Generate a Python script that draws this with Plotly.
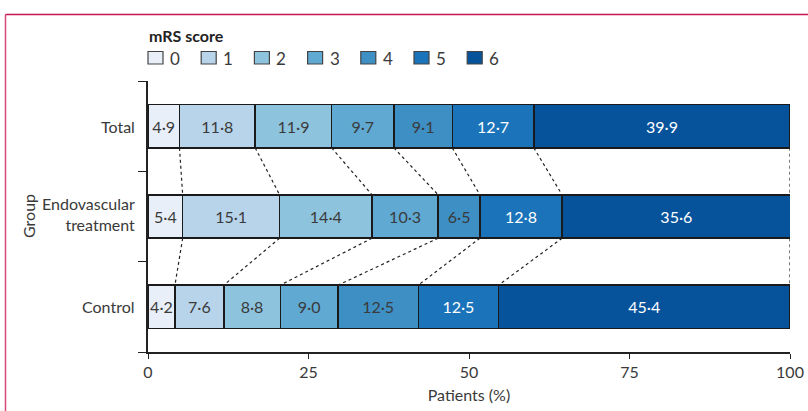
import plotly.graph_objects as go

groups = ["Total", "Endovascular<br>treatment", "Control"]
scores = ["0", "1", "2", "3", "4", "5", "6"]
total = [4.9, 11.8, 11.9, 9.7, 9.1, 12.7, 39.9]
endo = [5.4, 15.1, 14.4, 10.3, 6.5, 12.8, 35.6]
control = [4.2, 7.6, 8.8, 9.0, 12.5, 12.5, 45.4]
values = [total, endo, control]
colors = ["#e9eff8", "#b8d4ea", "#8dc3dd", "#5fa9d3", "#3e8fc3", "#1b73b9", "#06539b"]
text_colors = ["#3a3a3a"] * 5 + ["#ffffff", "#ffffff"]
x_ticks = [0, 25, 50, 75, 100]

FONT = "Lato, Roboto, sans-serif"
def f(size, color="#3a3a3a", weight="normal"):
    return dict(family=FONT, size=size, color=color, weight=weight)

BAR_W = 0.48

fig = go.Figure()
for i, s in enumerate(scores):
    xs = [row[i] for row in values]
    fig.add_trace(go.Bar(
        x=xs, y=[0, 1, 2], orientation="h", width=BAR_W,
        marker=dict(color=colors[i], line=dict(color="#1a1a1a", width=1.5)),
        text=[f"{v:.1f}".replace(".", "\u00b7") for v in xs],
        textposition="inside", insidetextanchor="middle", textangle=0,
        constraintext="none",
        textfont=f(16, text_colors[i]),
        showlegend=False, hoverinfo="skip",
    ))

def cums(row):
    out, c = [], 0
    for v in row:
        c += v
        out.append(c)
    return out

for g in range(len(values) - 1):
    a = cums(values[g])
    b = cums(values[g + 1])
    for k in range(len(scores)):
        xa = a[k] if k < len(scores) - 1 else 100
        xb = b[k] if k < len(scores) - 1 else 100
        fig.add_trace(go.Scatter(
            x=[xa, xb], y=[g + BAR_W / 2, g + 1 - BAR_W / 2], mode="lines",
            line=dict(color="#222222", width=1.2, dash="3px,3px"),
            showlegend=False, hoverinfo="skip",
        ))

PW, PH = 642.0, 271.0
def px(xp):
    return (xp - 148) / PW
def py(yp):
    return (352 - yp) / PH

shapes = []
annotations = []
for i, s in enumerate(scores):
    x0 = 148 + 53.2 * i
    shapes.append(dict(type="rect", xref="paper", yref="paper",
                       x0=px(x0), x1=px(x0 + 15), y0=py(64), y1=py(51.5),
                       fillcolor=colors[i], line=dict(color="#444444", width=1.2)))
    annotations.append(dict(text=s, xref="paper", yref="paper", x=px(x0 + 20), y=py(58.5),
                            xanchor="left", yanchor="middle", showarrow=False,
                            font=f(17)))
annotations.append(dict(text="mRS score", xref="paper", yref="paper", x=px(147), y=py(35),
                        xanchor="left", yanchor="middle", showarrow=False,
                        font=f(16, "#222222", 700)))

shapes.append(dict(type="line", xref="paper", yref="paper", x0=px(5.5), x1=px(812),
                   y0=py(14.5), y1=py(14.5), line=dict(color="#c8174f", width=1.5)))
shapes.append(dict(type="line", xref="paper", yref="paper", x0=px(5.5), x1=px(5.5),
                   y0=py(14.5), y1=py(420), line=dict(color="#d64a78", width=1.5)))

fig.update_layout(
    barmode="stack",
    width=808, height=411,
    margin=dict(l=148, r=18, t=81, b=59, autoexpand=False),
    plot_bgcolor="white", paper_bgcolor="white",
    font=f(16),
    shapes=shapes, annotations=annotations,
    xaxis=dict(range=[0, 100], tickvals=x_ticks, ticks="outside", ticklen=5,
               tickcolor="#222222", showline=True, linecolor="#222222", linewidth=1.5,
               showgrid=False, zeroline=False, automargin=False,
               title=dict(text="Patients (%)", standoff=10, font=f(16)),
               tickfont=f(16)),
    yaxis=dict(range=[2.5, -0.5], tickvals=[-0.5, 0.5, 1.5, 2.5], ticktext=["", "", "", ""],
               ticks="outside", ticklen=8, tickcolor="#222222",
               showline=True, linecolor="#222222", linewidth=1.5,
               showgrid=False, zeroline=False, automargin=False),
)

for j, g in enumerate(groups):
    fig.add_annotation(text=g, xref="paper", yref="y", x=px(137), y=j - (0.03 if j == 1 else 0),
                       xanchor="right", yanchor="middle", showarrow=False, align="right",
                       font=f(16))
fig.add_annotation(text="Group", xref="paper", yref="paper", x=px(28), y=py(216),
                   xanchor="center", yanchor="middle", showarrow=False, textangle=-90,
                   font=f(16))

fig.write_html("out.html")
